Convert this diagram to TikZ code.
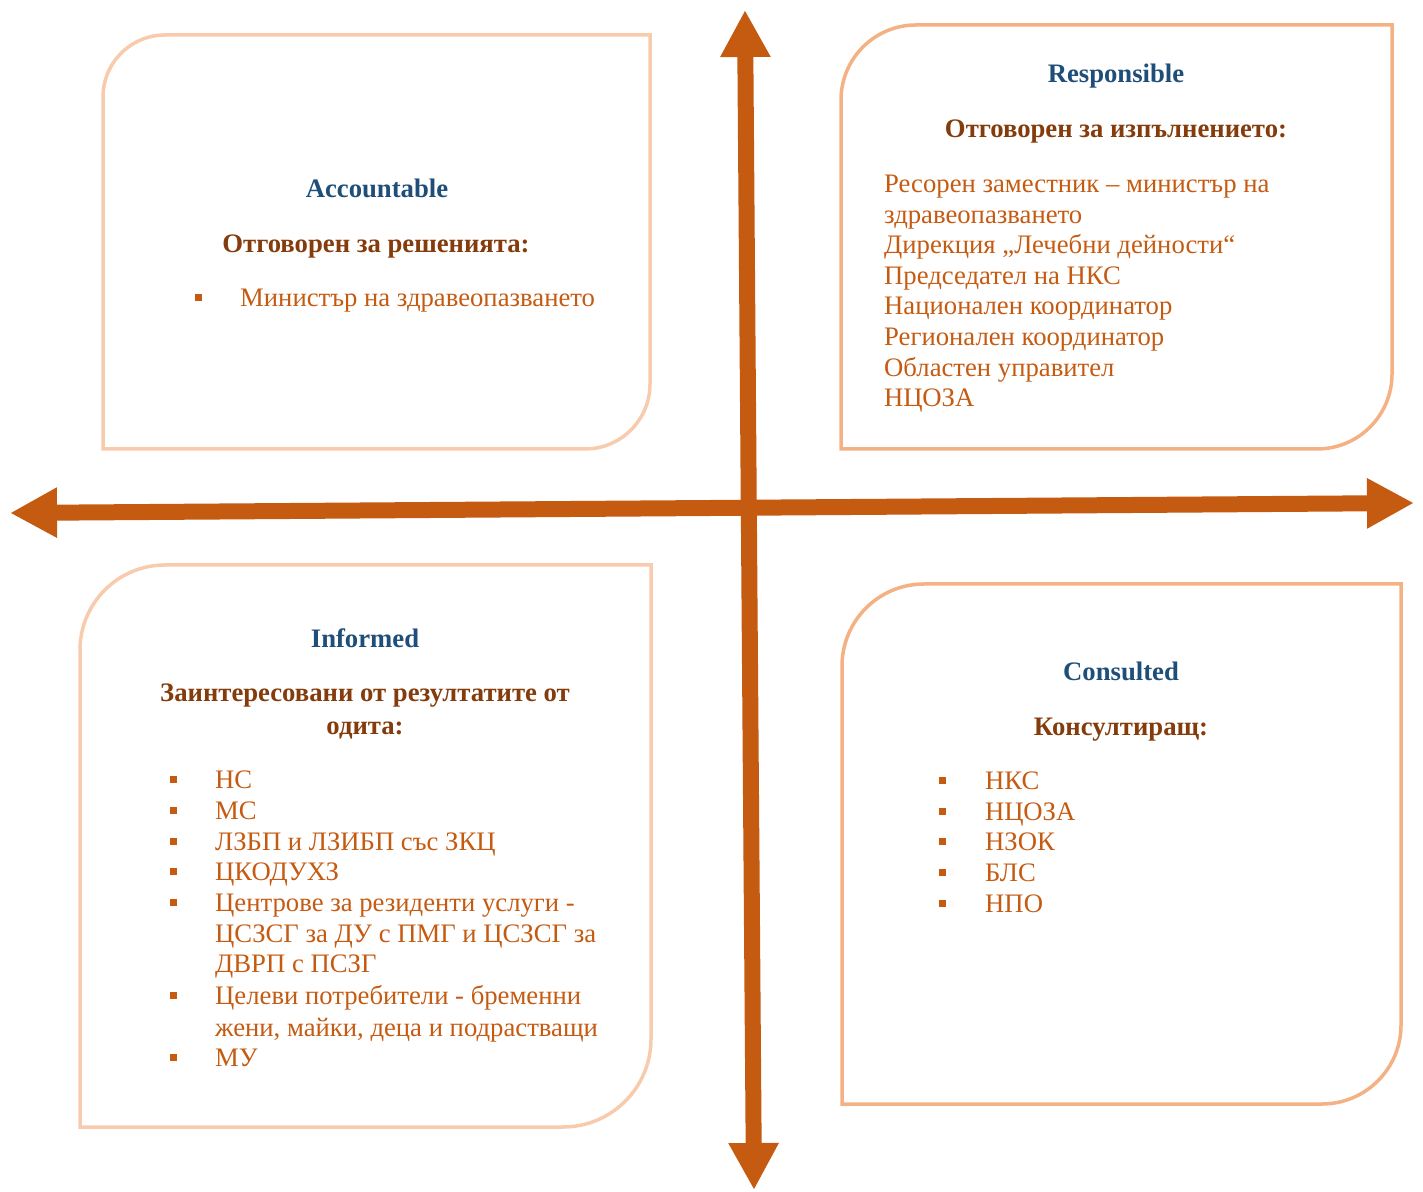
\documentclass[tikz,border=0pt]{standalone}
\usepackage{fontspec}
\setmainfont{Liberation Serif}
\usepackage{tikz}
\usetikzlibrary{arrows.meta}

\definecolor{raciorange}{HTML}{C55A11}
\definecolor{raciblue}{HTML}{1F4E79}
\definecolor{racibrown}{HTML}{843C0C}
\definecolor{peachlight}{HTML}{F8CBAD}
\definecolor{peachdark}{HTML}{F4B183}

\begin{document}
\begin{tikzpicture}[x=1pt, y=1pt,
    box/.style={line width=3.5pt},
    boxtitle/.style={font=\fontsize{26.7}{30.6}\selectfont\bfseries, text=raciblue, inner sep=0pt, anchor=base},
    subtitle/.style={font=\fontsize{26.7}{30.6}\selectfont\bfseries, text=racibrown, inner sep=0pt, anchor=base},
    entry/.style={font=\fontsize{26.7}{30.6}\selectfont, text=raciorange, inner sep=0pt, anchor=base west},
    bullet/.style={fill=raciorange, minimum size=7pt, inner sep=0pt},
    quadaxis/.style={line width=16pt, raciorange, {Triangle[length=47pt,width=47pt]}-{Triangle[length=47pt,width=47pt]}}]
    \useasboundingbox (0,0) rectangle (1423,1191);

    % Quadrant boxes
    \draw[box, peachlight] (103,742) -- (103,1094) arc[start angle=180, end angle=90, radius=62] -- (650,1156) -- (650,807) arc[start angle=0, end angle=-90, radius=65] -- cycle;
    \draw[box, peachdark] (841,742) -- (841,1091) arc[start angle=180, end angle=90, radius=75] -- (1392,1166) -- (1392,817) arc[start angle=0, end angle=-90, radius=75] -- cycle;
    \draw[box, peachlight] (80,64) -- (80,541) arc[start angle=180, end angle=90, radius=85] -- (651,626) -- (651,152) arc[start angle=0, end angle=-90, radius=88] -- cycle;
    \draw[box, peachdark] (842,87) -- (842,525) arc[start angle=180, end angle=90, radius=82] -- (1401,607) -- (1401,166) arc[start angle=0, end angle=-90, radius=79] -- cycle;

    % Axes
    \coordinate (hleft) at (10,678);
    \coordinate (hright) at (1414,688);
    \coordinate (vtop) at (745,1181);
    \coordinate (vbot) at (754,1);
    \draw[quadaxis] (hleft) -- (hright);
    \draw[quadaxis] (vbot) -- (vtop);

    \begin{scope}[yshift=-2pt]
    % Accountable
    \node[boxtitle] (acc-title) at (377,995) {Accountable};
    \node[subtitle] (acc-sub) at (376,940) {Отговорен за решенията:};
    \node[bullet] (acc-b1) at (198,895) {};
    \node[entry] (acc-i1) at (240,886) {Министър на здравеопазването};

    % Responsible
    \node[boxtitle] (res-title) at (1116,1110) {Responsible};
    \node[subtitle] (res-sub) at (1116,1055) {Отговорен за изпълнението:};
    \node[entry] (res-i1) at (884,1000) {Ресорен заместник – министър на};
    \node[entry] (res-i2) at (884,969) {здравеопазването};
    \node[entry] (res-i3) at (884,939) {Дирекция „Лечебни дейности“};
    \node[entry] (res-i4) at (884,908) {Председател на НКС};
    \node[entry] (res-i5) at (884,878) {Национален координатор};
    \node[entry] (res-i6) at (884,847) {Регионален координатор};
    \node[entry] (res-i7) at (884,816) {Областен управител};
    \node[entry] (res-i8) at (884,786) {НЦОЗА};

    % Informed
    \node[boxtitle] (inf-title) at (365,545) {Informed};
    \node[subtitle] (inf-sub1) at (365,491) {Заинтересовани от резултатите от};
    \node[subtitle] (inf-sub2) at (365,458) {одита:};
    \node[bullet] (inf-b1) at (173,413) {};
    \node[entry] (inf-i1) at (215,404) {НС};
    \node[bullet] (inf-b2) at (173,382) {};
    \node[entry] (inf-i2) at (215,373) {МС};
    \node[bullet] (inf-b3) at (173,351) {};
    \node[entry] (inf-i3) at (215,342) {ЛЗБП и ЛЗИБП със ЗКЦ};
    \node[bullet] (inf-b4) at (173,321) {};
    \node[entry] (inf-i4) at (215,312) {ЦКОДУХЗ};
    \node[bullet] (inf-b5) at (173,290) {};
    \node[entry] (inf-i5a) at (215,281) {Центрове за резиденти услуги -};
    \node[entry] (inf-i5b) at (215,250) {ЦСЗСГ за ДУ с ПМГ и ЦСЗСГ за};
    \node[entry] (inf-i5c) at (215,220) {ДВРП с ПСЗГ};
    \node[bullet] (inf-b6) at (173,197) {};
    \node[entry] (inf-i6a) at (215,188) {Целеви потребители - бременни};
    \node[entry] (inf-i6b) at (215,157) {жени, майки, деца и подрастващи};
    \node[bullet] (inf-b7) at (173,136) {};
    \node[entry] (inf-i7) at (215,127) {МУ};

    % Consulted
    \node[boxtitle] (con-title) at (1121,512) {Consulted};
    \node[subtitle] (con-sub) at (1121,457) {Консултиращ:};
    \node[bullet] (con-b1) at (942,412) {};
    \node[entry] (con-i1) at (985,403) {НКС};
    \node[bullet] (con-b2) at (942,381) {};
    \node[entry] (con-i2) at (985,372) {НЦОЗА};
    \node[bullet] (con-b3) at (942,351) {};
    \node[entry] (con-i3) at (985,342) {НЗОК};
    \node[bullet] (con-b4) at (942,320) {};
    \node[entry] (con-i4) at (985,311) {БЛС};
    \node[bullet] (con-b5) at (942,289) {};
    \node[entry] (con-i5) at (985,280) {НПО};
    \end{scope}
\end{tikzpicture}
\end{document}
